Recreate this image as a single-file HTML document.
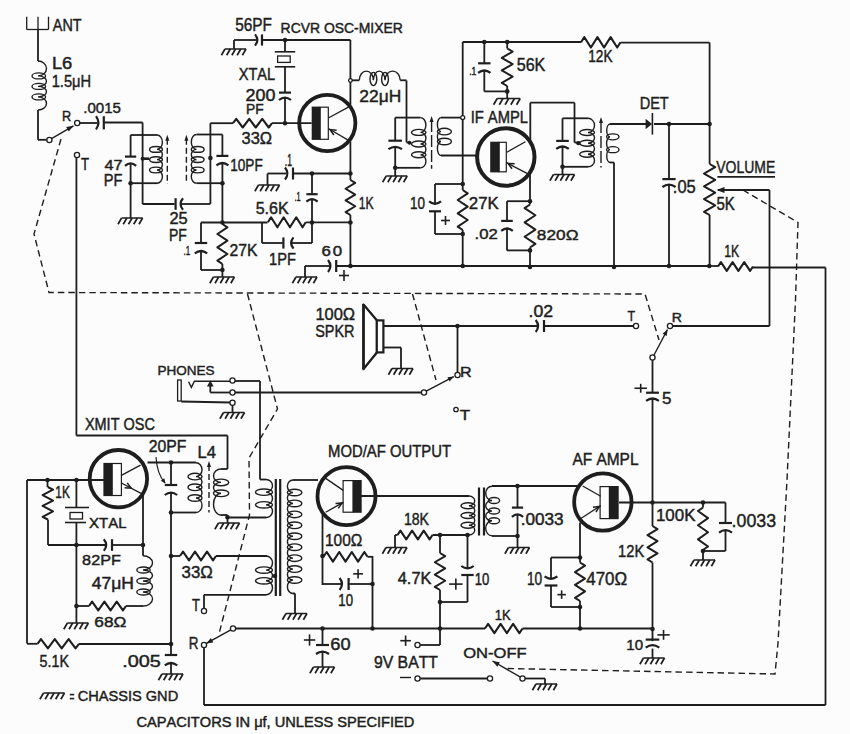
<!DOCTYPE html>
<html><head><meta charset="utf-8"><style>
html,body{margin:0;padding:0;background:#fcfcfc;overflow:hidden;width:850px;height:734px;}
svg{display:block;}
text{font-family:"Liberation Sans",sans-serif;fill:#1e1e1e;stroke:#1e1e1e;stroke-width:0.45px;font-kerning:none;}
</style></head><body>
<svg width="850" height="734" viewBox="0 0 850 734">
<rect width="850" height="734" fill="#fcfcfc"/>
<g fill="none" stroke="#1e1e1e" stroke-width="1.8" stroke-linecap="butt">
<line x1="26.7" y1="16.7" x2="26.7" y2="29.5" stroke-width="1.3"/>
<line x1="38" y1="16.7" x2="38" y2="29.5" stroke-width="1.3"/>
<line x1="48.5" y1="16.7" x2="48.5" y2="29.5" stroke-width="1.3"/>
<line x1="26.7" y1="29.5" x2="48.5" y2="29.5" stroke-width="1.3"/>
<line x1="38" y1="29.5" x2="38" y2="61"/>
<path d="M38,61 A8.5,7.45 0 0 1 38,75.9 A8.5,5.25 0 0 1 38,86.4 A8.5,5.25 0 0 1 38,96.9 A8.5,6.55 0 0 1 38,110" stroke-width="1.4"/>
<ellipse cx="38.8" cy="75.9" rx="6.8" ry="3" stroke-width="1.4"/>
<ellipse cx="38.8" cy="86.4" rx="6.8" ry="3" stroke-width="1.4"/>
<ellipse cx="38.8" cy="96.9" rx="6.8" ry="3" stroke-width="1.4"/>
<line x1="38" y1="110" x2="38" y2="139.8"/>
<line x1="38" y1="139.8" x2="46.8" y2="139.8"/>
<circle cx="49.4" cy="140" r="2.6" fill="#fff" stroke-width="1.3"/>
<line x1="51.5" y1="138.7" x2="73.5" y2="125.8" stroke-width="1.4"/>
<polygon points="73.5,125.8 68.78,131.58 66.15,127.1" fill="#1e1e1e" stroke="none"/>
<circle cx="77.2" cy="123" r="2.6" fill="#fff" stroke-width="1.3"/>
<line x1="79.8" y1="123" x2="97.5" y2="123"/>
<line x1="103.8" y1="116.2" x2="103.8" y2="129.4" stroke-width="2.2"/>
<path d="M96,116.2 Q100.8,122.8 96,129.4" stroke-width="2.2"/>
<line x1="104.5" y1="122.5" x2="142.6" y2="122.5"/>
<line x1="142.6" y1="122.5" x2="142.6" y2="204"/>
<circle cx="77" cy="155" r="2.6" fill="#fff" stroke-width="1.3"/>
<line x1="76.4" y1="157.6" x2="76.4" y2="435.5"/>
<line x1="130.6" y1="135" x2="130.6" y2="156.4"/>
<line x1="125" y1="156.6" x2="136.2" y2="156.6" stroke-width="2.2"/>
<path d="M125,165.8 Q130.6,161 136.2,165.8" stroke-width="2.2"/>
<line x1="130.6" y1="163.6" x2="130.6" y2="218"/>
<line x1="121.6" y1="218" x2="142.6" y2="218" stroke-width="1.5"/>
<line x1="121.6" y1="218" x2="118" y2="224.2" stroke-width="1.7"/>
<line x1="126.85" y1="218" x2="123.25" y2="224.2" stroke-width="1.7"/>
<line x1="132.1" y1="218" x2="128.5" y2="224.2" stroke-width="1.7"/>
<line x1="137.35" y1="218" x2="133.75" y2="224.2" stroke-width="1.7"/>
<line x1="142.6" y1="218" x2="139" y2="224.2" stroke-width="1.7"/>
<circle cx="130.6" cy="183.2" r="2.3" fill="#1e1e1e" stroke="none"/>
<line x1="130.6" y1="135" x2="157" y2="135"/>
<line x1="130.6" y1="183.2" x2="157" y2="183.2"/>
<path d="M157,135 A5.4,7.2 0 0 1 157,149.4 A5.4,5.1 0 0 1 157,159.6 A5.4,5.2 0 0 1 157,170 A5.4,6.6 0 0 1 157,183.2" stroke-width="1.4"/>
<ellipse cx="156" cy="149.4" rx="6.4" ry="2.9" stroke-width="1.4"/>
<ellipse cx="156" cy="159.6" rx="6.4" ry="2.9" stroke-width="1.4"/>
<ellipse cx="156" cy="170" rx="6.4" ry="2.9" stroke-width="1.4"/>
<circle cx="142.6" cy="158.7" r="2" fill="#1e1e1e" stroke="none"/>
<line x1="142.6" y1="158.7" x2="149" y2="158.7" stroke-width="2.6"/>
<polyline points="167.3,138.7 167.3,184" stroke-width="1.4" stroke-dasharray="6 3"/>
<polygon points="167.3,134.7 169.3,140.7 165.3,140.7" fill="#1e1e1e" stroke="none"/>
<line x1="142.6" y1="204" x2="174.6" y2="204"/>
<line x1="175.6" y1="198.2" x2="175.6" y2="209.8" stroke-width="2.2"/>
<path d="M183,198.2 Q178.2,204 183,209.8" stroke-width="2.2"/>
<line x1="181.2" y1="204" x2="210.4" y2="204"/>
<polyline points="186.4,138.7 186.4,183.4" stroke-width="1.4" stroke-dasharray="6 3"/>
<polygon points="186.4,134.7 188.4,140.7 184.4,140.7" fill="#1e1e1e" stroke="none"/>
<path d="M196.5,134.5 A5.2,7.45 0 0 0 196.5,149.4 A5.2,5.1 0 0 0 196.5,159.6 A5.2,5.2 0 0 0 196.5,170 A5.2,6.6 0 0 0 196.5,183.2" stroke-width="1.4"/>
<ellipse cx="197.7" cy="149.4" rx="6.4" ry="2.9" stroke-width="1.4"/>
<ellipse cx="197.7" cy="159.6" rx="6.4" ry="2.9" stroke-width="1.4"/>
<ellipse cx="197.7" cy="170" rx="6.4" ry="2.9" stroke-width="1.4"/>
<line x1="196.5" y1="134.5" x2="222.4" y2="134.5"/>
<line x1="196.5" y1="183.2" x2="222.4" y2="183.2"/>
<line x1="210.4" y1="123.2" x2="210.4" y2="204"/>
<circle cx="210.4" cy="158" r="2.3" fill="#1e1e1e" stroke="none"/>
<line x1="210.4" y1="123.2" x2="233" y2="123.2"/>
<polyline points="233,123.2 236.25,118.9 242.75,127.5 249.25,118.9 255.75,127.5 262.25,118.9 268.75,127.5 272,123.2" stroke-width="2.1" stroke-linejoin="round"/>
<line x1="272" y1="123.2" x2="311.7" y2="123.2"/>
<circle cx="285" cy="123.2" r="2.3" fill="#1e1e1e" stroke="none"/>
<line x1="222.4" y1="134.5" x2="222.4" y2="155.5"/>
<line x1="216.4" y1="155.9" x2="228.4" y2="155.9" stroke-width="2.2"/>
<path d="M216.4,165.4 Q222.4,160.6 228.4,165.4" stroke-width="2.2"/>
<line x1="222.4" y1="163.4" x2="222.4" y2="222.5"/>
<circle cx="222.4" cy="183.2" r="2.3" fill="#1e1e1e" stroke="none"/>
<circle cx="222.4" cy="222.5" r="2.3" fill="#1e1e1e" stroke="none"/>
<line x1="225" y1="49" x2="246" y2="49" stroke-width="1.5"/>
<line x1="225" y1="49" x2="221.4" y2="55.2" stroke-width="1.7"/>
<line x1="230.25" y1="49" x2="226.65" y2="55.2" stroke-width="1.7"/>
<line x1="235.5" y1="49" x2="231.9" y2="55.2" stroke-width="1.7"/>
<line x1="240.75" y1="49" x2="237.15" y2="55.2" stroke-width="1.7"/>
<line x1="246" y1="49" x2="242.4" y2="55.2" stroke-width="1.7"/>
<line x1="234" y1="40" x2="234" y2="49"/>
<line x1="234" y1="40" x2="256.5" y2="40"/>
<line x1="262" y1="34.4" x2="262" y2="45.6" stroke-width="2.2"/>
<path d="M255,34.4 Q259.8,40 255,45.6" stroke-width="2.2"/>
<line x1="262.6" y1="40" x2="350.4" y2="40"/>
<circle cx="285" cy="40" r="2.3" fill="#1e1e1e" stroke="none"/>
<line x1="285" y1="40" x2="285" y2="51.8"/>
<line x1="274.8" y1="51.8" x2="295.2" y2="51.8" stroke-width="1.6"/>
<rect x="277.6" y="56" width="12.6" height="6.4" fill="#fff" stroke-width="1.3"/>
<line x1="274.8" y1="66.8" x2="295.2" y2="66.8" stroke-width="1.6"/>
<line x1="285" y1="66.8" x2="285" y2="92.3"/>
<line x1="279" y1="92.6" x2="291" y2="92.6" stroke-width="2.2"/>
<path d="M279,100 Q285,95.2 291,100" stroke-width="2.2"/>
<line x1="285" y1="98" x2="285" y2="123"/>
<circle cx="327.3" cy="123" r="28.1" stroke-width="3.8"/>
<rect x="311.7" y="106.6" width="8.5" height="33.3" fill="#1e1e1e" stroke="none"/>
<rect x="320.2" y="107.2" width="8.1" height="32.1" fill="#fff" stroke-width="1.2"/>
<line x1="328.8" y1="117.7" x2="348.4" y2="107.1" stroke-width="1.3"/>
<line x1="328.8" y1="128.8" x2="349.4" y2="140.9" stroke-width="1.3"/>
<polyline points="336.63,130.15 330.04,129.53 333.79,134.98" stroke-width="1.5"/>
<line x1="350.4" y1="40" x2="350.4" y2="105"/>
<line x1="350.4" y1="141.4" x2="350.4" y2="180"/>
<line x1="350.4" y1="215" x2="350.4" y2="266"/>
<circle cx="350.4" cy="80.5" r="1.8" fill="#fff" stroke-width="1.3"/>
<line x1="352" y1="80.3" x2="359.3" y2="80.3"/>
<path d="M359.3,80.3 A7.05,9.2 0 0 1 373.4,80.3 A5.8,9.2 0 0 1 385,80.3 A7.6,9.2 0 0 1 400.2,80.3" stroke-width="1.4"/>
<ellipse cx="373.4" cy="79" rx="3.4" ry="6.6" stroke-width="1.4"/>
<ellipse cx="385" cy="79" rx="3.4" ry="6.6" stroke-width="1.4"/>
<line x1="400.2" y1="80.3" x2="406.5" y2="80.3"/>
<line x1="406.5" y1="80.5" x2="406.5" y2="142.3"/>
<line x1="406.5" y1="142.5" x2="410" y2="142.5"/>
<circle cx="409.5" cy="142.8" r="2" fill="#1e1e1e" stroke="none"/>
<line x1="267.5" y1="173.5" x2="286.4" y2="173.5"/>
<line x1="293" y1="167.5" x2="293" y2="179.5" stroke-width="2.2"/>
<path d="M285,167.5 Q289.8,173.5 285,179.5" stroke-width="2.2"/>
<line x1="293.6" y1="173.5" x2="350.4" y2="173.5"/>
<circle cx="312" cy="173.5" r="2.3" fill="#1e1e1e" stroke="none"/>
<circle cx="350.4" cy="173.5" r="2.3" fill="#1e1e1e" stroke="none"/>
<line x1="267.5" y1="173.5" x2="267.5" y2="185"/>
<line x1="258.5" y1="185" x2="279.5" y2="185" stroke-width="1.5"/>
<line x1="258.5" y1="185" x2="254.9" y2="191.2" stroke-width="1.7"/>
<line x1="263.75" y1="185" x2="260.15" y2="191.2" stroke-width="1.7"/>
<line x1="269" y1="185" x2="265.4" y2="191.2" stroke-width="1.7"/>
<line x1="274.25" y1="185" x2="270.65" y2="191.2" stroke-width="1.7"/>
<line x1="279.5" y1="185" x2="275.9" y2="191.2" stroke-width="1.7"/>
<line x1="312" y1="173.5" x2="312" y2="193.8"/>
<line x1="306.4" y1="194.2" x2="317.6" y2="194.2" stroke-width="2.2"/>
<path d="M306.4,201.6 Q312,196.8 317.6,201.6" stroke-width="2.2"/>
<line x1="312" y1="199.6" x2="312" y2="243"/>
<polyline points="350.4,180 355.2,182.92 345.6,188.75 355.2,194.58 345.6,200.42 355.2,206.25 345.6,212.08 350.4,215" stroke-width="2" stroke-linejoin="round"/>
<line x1="201" y1="222.5" x2="267.5" y2="222.5"/>
<polyline points="267.9,222.3 271.05,217.3 277.35,227.3 283.65,217.3 289.95,227.3 296.25,217.3 302.55,227.3 305.7,222.3" stroke-width="2.1" stroke-linejoin="round"/>
<line x1="305.7" y1="222.3" x2="350.4" y2="222.3"/>
<circle cx="312" cy="222.5" r="2.3" fill="#1e1e1e" stroke="none"/>
<circle cx="350.4" cy="222.5" r="2.3" fill="#1e1e1e" stroke="none"/>
<line x1="262" y1="222.5" x2="262" y2="243"/>
<line x1="262" y1="243" x2="282.7" y2="243"/>
<line x1="283.4" y1="237.4" x2="283.4" y2="248.6" stroke-width="2.2"/>
<path d="M293.5,237.4 Q288.7,243 293.5,248.6" stroke-width="2.2"/>
<line x1="291.6" y1="243" x2="312" y2="243"/>
<line x1="222.4" y1="222.5" x2="222.4" y2="224"/>
<polyline points="222.4,224 227.4,227.33 217.4,234 227.4,240.67 217.4,247.33 227.4,254 217.4,260.67 222.4,264" stroke-width="2" stroke-linejoin="round"/>
<line x1="222.4" y1="264" x2="222.4" y2="270"/>
<line x1="222.4" y1="267.5" x2="222.4" y2="277"/>
<circle cx="222.4" cy="270" r="2.3" fill="#1e1e1e" stroke="none"/>
<line x1="213.4" y1="277" x2="234.4" y2="277" stroke-width="1.5"/>
<line x1="213.4" y1="277" x2="209.8" y2="283.2" stroke-width="1.7"/>
<line x1="218.65" y1="277" x2="215.05" y2="283.2" stroke-width="1.7"/>
<line x1="223.9" y1="277" x2="220.3" y2="283.2" stroke-width="1.7"/>
<line x1="229.15" y1="277" x2="225.55" y2="283.2" stroke-width="1.7"/>
<line x1="234.4" y1="277" x2="230.8" y2="283.2" stroke-width="1.7"/>
<line x1="201" y1="222.5" x2="201" y2="242.6"/>
<line x1="194.8" y1="243" x2="207.2" y2="243" stroke-width="2.2"/>
<path d="M194.8,253.4 Q201,248.6 207.2,253.4" stroke-width="2.2"/>
<line x1="201" y1="251.4" x2="201" y2="270"/>
<line x1="201" y1="270" x2="222.4" y2="270"/>
<line x1="305" y1="266" x2="329.6" y2="266"/>
<line x1="336.2" y1="260" x2="336.2" y2="272" stroke-width="2.2"/>
<path d="M328,260 Q332.8,266 328,272" stroke-width="2.2"/>
<line x1="337" y1="266" x2="709.6" y2="266"/>
<line x1="305" y1="266" x2="305" y2="277"/>
<line x1="296" y1="277" x2="317" y2="277" stroke-width="1.5"/>
<line x1="296" y1="277" x2="292.4" y2="283.2" stroke-width="1.7"/>
<line x1="301.25" y1="277" x2="297.65" y2="283.2" stroke-width="1.7"/>
<line x1="306.5" y1="277" x2="302.9" y2="283.2" stroke-width="1.7"/>
<line x1="311.75" y1="277" x2="308.15" y2="283.2" stroke-width="1.7"/>
<line x1="317" y1="277" x2="313.4" y2="283.2" stroke-width="1.7"/>
<circle cx="350.4" cy="266" r="2.3" fill="#1e1e1e" stroke="none"/>
<line x1="339" y1="275.5" x2="349" y2="275.5" stroke-width="1.6"/>
<line x1="344" y1="270" x2="344" y2="281" stroke-width="1.6"/>
<line x1="395.2" y1="117.6" x2="420.5" y2="117.6"/>
<line x1="395.2" y1="167.8" x2="420.5" y2="167.8"/>
<line x1="395.2" y1="117.6" x2="395.2" y2="140.3"/>
<line x1="388.4" y1="140.7" x2="402" y2="140.7" stroke-width="2.2"/>
<path d="M388.4,149.2 Q395.2,144.4 402,149.2" stroke-width="2.2"/>
<line x1="395.2" y1="147.2" x2="395.2" y2="176"/>
<circle cx="395.2" cy="167.8" r="2.3" fill="#1e1e1e" stroke="none"/>
<line x1="386.2" y1="176" x2="407.2" y2="176" stroke-width="1.5"/>
<line x1="386.2" y1="176" x2="382.6" y2="182.2" stroke-width="1.7"/>
<line x1="391.45" y1="176" x2="387.85" y2="182.2" stroke-width="1.7"/>
<line x1="396.7" y1="176" x2="393.1" y2="182.2" stroke-width="1.7"/>
<line x1="401.95" y1="176" x2="398.35" y2="182.2" stroke-width="1.7"/>
<line x1="407.2" y1="176" x2="403.6" y2="182.2" stroke-width="1.7"/>
<path d="M420.5,117.6 A5.4,7.4 0 0 1 420.5,132.4 A5.4,5.8 0 0 1 420.5,144 A5.4,5.35 0 0 1 420.5,154.7 A5.4,6.55 0 0 1 420.5,167.8" stroke-width="1.4"/>
<ellipse cx="418.7" cy="132.4" rx="7.2" ry="3" stroke-width="1.4"/>
<ellipse cx="418.7" cy="144" rx="7.2" ry="3" stroke-width="1.4"/>
<ellipse cx="418.7" cy="154.7" rx="7.2" ry="3" stroke-width="1.4"/>
<polyline points="431.6,120 431.6,168.7" stroke-width="1.4" stroke-dasharray="12 3"/>
<polygon points="431.6,116 433.6,122 429.6,122" fill="#1e1e1e" stroke="none"/>
<path d="M441,117.6 A3.6,7 0 0 0 441,131.6 A3.6,4.95 0 0 0 441,141.5 A3.6,7 0 0 0 441,155.5" stroke-width="1.4"/>
<ellipse cx="444.4" cy="131.6" rx="7" ry="3.3" stroke-width="1.4"/>
<ellipse cx="444.4" cy="141.5" rx="7" ry="3.3" stroke-width="1.4"/>
<line x1="441" y1="117.6" x2="460.3" y2="117.6"/>
<line x1="441" y1="155.5" x2="478.5" y2="155.5"/>
<line x1="462.7" y1="42" x2="462.7" y2="190"/>
<line x1="462.7" y1="230" x2="462.7" y2="266"/>
<circle cx="462.7" cy="117.6" r="2" fill="#fff" stroke-width="1.3"/>
<line x1="462.7" y1="42" x2="581" y2="42"/>
<polyline points="581,42.3 584.29,37.1 590.88,47.5 597.46,37.1 604.04,47.5 610.62,37.1 617.21,47.5 620.5,42.3" stroke-width="2.1" stroke-linejoin="round"/>
<line x1="620.5" y1="42.6" x2="709.6" y2="42.6"/>
<line x1="709.6" y1="42.6" x2="709.6" y2="124"/>
<circle cx="484.3" cy="42" r="2.3" fill="#1e1e1e" stroke="none"/>
<circle cx="507.2" cy="42" r="2.3" fill="#1e1e1e" stroke="none"/>
<line x1="484.3" y1="42" x2="484.3" y2="63"/>
<line x1="478.1" y1="63.3" x2="490.5" y2="63.3" stroke-width="2.2"/>
<path d="M478.1,72.9 Q484.3,68.1 490.5,72.9" stroke-width="2.2"/>
<line x1="484.3" y1="70.9" x2="484.3" y2="91.4"/>
<line x1="484.3" y1="91.4" x2="507.2" y2="91.4"/>
<line x1="507.2" y1="42" x2="507.2" y2="48.5"/>
<polyline points="507.2,48.5 512.6,51.62 501.8,57.88 512.6,64.12 501.8,70.38 512.6,76.62 501.8,82.88 507.2,86" stroke-width="2" stroke-linejoin="round"/>
<line x1="507.2" y1="86" x2="507.2" y2="98.5"/>
<circle cx="507.2" cy="91.4" r="2.3" fill="#1e1e1e" stroke="none"/>
<line x1="497.2" y1="98.5" x2="520.2" y2="98.5" stroke-width="1.5"/>
<line x1="497.2" y1="98.5" x2="493.6" y2="104.7" stroke-width="1.7"/>
<line x1="502.95" y1="98.5" x2="499.35" y2="104.7" stroke-width="1.7"/>
<line x1="508.7" y1="98.5" x2="505.1" y2="104.7" stroke-width="1.7"/>
<line x1="514.45" y1="98.5" x2="510.85" y2="104.7" stroke-width="1.7"/>
<line x1="520.2" y1="98.5" x2="516.6" y2="104.7" stroke-width="1.7"/>
<circle cx="505.8" cy="157" r="28.7" stroke-width="4"/>
<rect x="490.2" y="141.7" width="9" height="30.7" fill="#1e1e1e" stroke="none"/>
<rect x="499.2" y="142.3" width="7.1" height="29.5" fill="#fff" stroke-width="1.2"/>
<line x1="506.8" y1="152.2" x2="525.4" y2="141.7" stroke-width="1.3"/>
<line x1="506.8" y1="162.8" x2="527" y2="173.4" stroke-width="1.3"/>
<polyline points="514.63,163.74 508.01,163.44 512.02,168.7" stroke-width="1.5"/>
<line x1="530.3" y1="102.7" x2="530.3" y2="140.5"/>
<line x1="530.3" y1="102.7" x2="574.5" y2="102.7"/>
<line x1="574.5" y1="102.7" x2="574.5" y2="142.5"/>
<line x1="574.5" y1="142.5" x2="580" y2="142.5"/>
<line x1="530" y1="174.5" x2="530" y2="204.5"/>
<line x1="530" y1="247.5" x2="530" y2="267"/>
<circle cx="530" cy="201.2" r="2.3" fill="#1e1e1e" stroke="none"/>
<line x1="507" y1="201.2" x2="530" y2="201.2"/>
<line x1="507" y1="201.2" x2="507" y2="220.5"/>
<line x1="501.2" y1="220.9" x2="512.8" y2="220.9" stroke-width="2.2"/>
<path d="M501.2,230.9 Q507,226.1 512.8,230.9" stroke-width="2.2"/>
<line x1="507" y1="228.9" x2="507" y2="250.4"/>
<line x1="507" y1="250.4" x2="530" y2="250.4"/>
<polyline points="530,204.5 524.6,208.08 535.4,215.25 524.6,222.42 535.4,229.58 524.6,236.75 535.4,243.92 530,247.5" stroke-width="2" stroke-linejoin="round"/>
<circle cx="530" cy="250.4" r="2.3" fill="#1e1e1e" stroke="none"/>
<circle cx="462.7" cy="184" r="2.3" fill="#1e1e1e" stroke="none"/>
<line x1="435" y1="184" x2="462.7" y2="184"/>
<line x1="435" y1="184" x2="435" y2="204.6"/>
<line x1="429" y1="211.3" x2="441" y2="211.3" stroke-width="2.2"/>
<path d="M429,201.4 Q435,206.2 441,201.4" stroke-width="2.2"/>
<line x1="435" y1="211.3" x2="435" y2="234"/>
<line x1="435" y1="234" x2="462.7" y2="234"/>
<polyline points="462.7,190 467.7,193.33 457.7,200 467.7,206.67 457.7,213.33 467.7,220 457.7,226.67 462.7,230" stroke-width="2" stroke-linejoin="round"/>
<circle cx="462.7" cy="234" r="2.3" fill="#1e1e1e" stroke="none"/>
<line x1="441" y1="220.5" x2="450" y2="220.5" stroke-width="1.6"/>
<line x1="445.5" y1="216" x2="445.5" y2="225" stroke-width="1.6"/>
<line x1="562.5" y1="118.3" x2="588" y2="118.3"/>
<line x1="562.5" y1="166.8" x2="588" y2="166.8"/>
<line x1="562.5" y1="118.3" x2="562.5" y2="140.5"/>
<line x1="556.2" y1="140.9" x2="568.8" y2="140.9" stroke-width="2.2"/>
<path d="M556.2,148.9 Q562.5,144.1 568.8,148.9" stroke-width="2.2"/>
<line x1="562.5" y1="146.9" x2="562.5" y2="174.5"/>
<circle cx="562.5" cy="166.8" r="2.3" fill="#1e1e1e" stroke="none"/>
<line x1="553.5" y1="174.5" x2="574.5" y2="174.5" stroke-width="1.5"/>
<line x1="553.5" y1="174.5" x2="549.9" y2="180.7" stroke-width="1.7"/>
<line x1="558.75" y1="174.5" x2="555.15" y2="180.7" stroke-width="1.7"/>
<line x1="564" y1="174.5" x2="560.4" y2="180.7" stroke-width="1.7"/>
<line x1="569.25" y1="174.5" x2="565.65" y2="180.7" stroke-width="1.7"/>
<line x1="574.5" y1="174.5" x2="570.9" y2="180.7" stroke-width="1.7"/>
<path d="M588,118.3 A6.5,7.1 0 0 1 588,132.5 A6.5,5.35 0 0 1 588,143.2 A6.5,5.5 0 0 1 588,154.2 A6.5,6.3 0 0 1 588,166.8" stroke-width="1.4"/>
<ellipse cx="587.1" cy="132.5" rx="7.4" ry="3" stroke-width="1.4"/>
<ellipse cx="587.1" cy="143.2" rx="7.4" ry="3" stroke-width="1.4"/>
<ellipse cx="587.1" cy="154.2" rx="7.4" ry="3" stroke-width="1.4"/>
<circle cx="578.3" cy="143.2" r="2.1" fill="#1e1e1e" stroke="none"/>
<polyline points="601,121 601,167.5" stroke-width="1.4" stroke-dasharray="12 3"/>
<polygon points="601,117 603,123 599,123" fill="#1e1e1e" stroke="none"/>
<path d="M610,124 A3.4,6.42 0 0 0 610,136.83 A3.4,6.42 0 0 0 610,149.67 A3.4,6.42 0 0 0 610,162.5" stroke-width="1.4"/>
<ellipse cx="612.8" cy="136.83" rx="6.2" ry="3" stroke-width="1.4"/>
<ellipse cx="612.8" cy="149.67" rx="6.2" ry="3" stroke-width="1.4"/>
<line x1="610" y1="124" x2="646" y2="124"/>
<line x1="614" y1="162.5" x2="614" y2="267"/>
<line x1="610" y1="162.5" x2="614" y2="162.5"/>
<polygon points="645.6,118.8 652,124 645.6,129.2" fill="#1e1e1e" stroke="none"/>
<line x1="652.4" y1="113" x2="652.4" y2="134.6" stroke-width="1.6"/>
<line x1="654" y1="124" x2="709.6" y2="124"/>
<circle cx="669" cy="124" r="2.3" fill="#1e1e1e" stroke="none"/>
<circle cx="709.6" cy="124" r="2.3" fill="#1e1e1e" stroke="none"/>
<line x1="669" y1="124" x2="669" y2="178.8"/>
<line x1="662.4" y1="179.1" x2="675.6" y2="179.1" stroke-width="2.2"/>
<path d="M662.4,187 Q669,182.2 675.6,187" stroke-width="2.2"/>
<line x1="669" y1="184.6" x2="669" y2="266"/>
<circle cx="530" cy="267" r="2.3" fill="#1e1e1e" stroke="none"/>
<circle cx="614" cy="267" r="2.3" fill="#1e1e1e" stroke="none"/>
<circle cx="669" cy="266" r="2.3" fill="#1e1e1e" stroke="none"/>
<circle cx="462.7" cy="266" r="2.3" fill="#1e1e1e" stroke="none"/>
<line x1="709.6" y1="124" x2="709.6" y2="164"/>
<polyline points="709.6,164 715.2,167.19 704,173.56 715.2,179.94 704,186.31 715.2,192.69 704,199.06 715.2,205.44 704,211.81 709.6,215" stroke-width="2" stroke-linejoin="round"/>
<line x1="709.6" y1="215" x2="709.6" y2="266"/>
<circle cx="709.3" cy="266" r="2.3" fill="#1e1e1e" stroke="none"/>
<line x1="718" y1="190" x2="769.5" y2="190"/>
<polygon points="716.5,190 724.5,187 724.5,193" fill="#1e1e1e" stroke="none"/>
<line x1="769.5" y1="190" x2="769.5" y2="326"/>
<line x1="717.4" y1="176.9" x2="775" y2="176.9" stroke-width="1.6"/>
<line x1="709.6" y1="266" x2="718" y2="266"/>
<polyline points="718,266.5 720.92,262.1 726.75,270.9 732.58,262.1 738.42,270.9 744.25,262.1 750.08,270.9 753,266.5" stroke-width="2.1" stroke-linejoin="round"/>
<line x1="753" y1="267.5" x2="825.5" y2="267.5"/>
<line x1="825.5" y1="267.5" x2="825.5" y2="705"/>
<polyline points="743,190 798,222.5 795.5,300 787,480 778,643 775,674 507.5,668.5" stroke-width="1.4" stroke-dasharray="6.5 4"/>
<polyline points="61,139 34,234 49,292.5 645,294 659,340" stroke-width="1.4" stroke-dasharray="6.5 4"/>
<polyline points="247.5,294 277.5,409 249,458 249.5,515 219.5,632" stroke-width="1.4" stroke-dasharray="6.5 4"/>
<polyline points="412.5,294 436,380" stroke-width="1.4" stroke-dasharray="6.5 4"/>
<line x1="384" y1="326" x2="537.2" y2="326"/>
<line x1="544" y1="320" x2="544" y2="332" stroke-width="2.2"/>
<path d="M535.7,320 Q540.5,326 535.7,332" stroke-width="2.2"/>
<line x1="544.6" y1="326" x2="633.4" y2="326"/>
<circle cx="636" cy="326" r="2.6" fill="#fff" stroke-width="1.3"/>
<circle cx="457.5" cy="326" r="2.3" fill="#1e1e1e" stroke="none"/>
<circle cx="670" cy="326" r="2.6" fill="#fff" stroke-width="1.3"/>
<line x1="672.6" y1="326" x2="769.5" y2="326"/>
<circle cx="652.5" cy="357.5" r="2.6" fill="#fff" stroke-width="1.3"/>
<line x1="654" y1="355" x2="667.5" y2="329.5" stroke-width="1.4"/>
<polygon points="667.5,329.5 666.81,335.93 662.57,333.68" fill="#1e1e1e" stroke="none"/>
<line x1="652.5" y1="360.1" x2="652.5" y2="392.4"/>
<line x1="646.1" y1="392.7" x2="658.9" y2="392.7" stroke-width="2.2"/>
<path d="M646.1,400.9 Q652.5,396.1 658.9,400.9" stroke-width="2.2"/>
<line x1="652.5" y1="398.9" x2="652.5" y2="526"/>
<line x1="652.5" y1="562.5" x2="652.5" y2="629"/>
<circle cx="652.5" cy="502.5" r="2.3" fill="#1e1e1e" stroke="none"/>
<circle cx="652.5" cy="629" r="2.3" fill="#1e1e1e" stroke="none"/>
<line x1="634.5" y1="388.25" x2="646.9" y2="388.25" stroke-width="1.6"/>
<line x1="640.7" y1="383.8" x2="640.7" y2="392.7" stroke-width="1.6"/>
<polygon points="363.5,304.5 376.5,320 376.5,352.5 363.5,369" fill="#fff" stroke-width="1.3"/>
<line x1="363.5" y1="304" x2="363.5" y2="369.5" stroke-width="2.8"/>
<line x1="363.5" y1="304.5" x2="377" y2="320.5" stroke-width="2.2"/>
<line x1="363.5" y1="369" x2="377" y2="352.5" stroke-width="2.2"/>
<rect x="376.8" y="320.4" width="6.6" height="32" fill="#fff" stroke-width="2.2"/>
<line x1="383.4" y1="347.5" x2="401" y2="347.5"/>
<line x1="401" y1="347.5" x2="401" y2="368.5"/>
<line x1="392" y1="368.5" x2="413" y2="368.5" stroke-width="1.5"/>
<line x1="392" y1="368.5" x2="388.4" y2="374.7" stroke-width="1.7"/>
<line x1="397.25" y1="368.5" x2="393.65" y2="374.7" stroke-width="1.7"/>
<line x1="402.5" y1="368.5" x2="398.9" y2="374.7" stroke-width="1.7"/>
<line x1="407.75" y1="368.5" x2="404.15" y2="374.7" stroke-width="1.7"/>
<line x1="413" y1="368.5" x2="409.4" y2="374.7" stroke-width="1.7"/>
<line x1="457.5" y1="326" x2="457.5" y2="372.4"/>
<circle cx="457.5" cy="375" r="2.6" fill="#fff" stroke-width="1.3"/>
<circle cx="424" cy="392.5" r="2.6" fill="#fff" stroke-width="1.3"/>
<line x1="426.2" y1="391.2" x2="453.8" y2="376.6" stroke-width="1.4"/>
<polygon points="453.8,376.6 449.62,381.53 447.37,377.28" fill="#1e1e1e" stroke="none"/>
<line x1="235" y1="392.5" x2="421.4" y2="392.5"/>
<circle cx="456" cy="409.5" r="2.2" fill="#fff" stroke-width="1.3"/>
<rect x="177.6" y="380" width="3.6" height="21" fill="#fff" stroke-width="1.3"/>
<line x1="181.2" y1="401.5" x2="230" y2="402.5"/>
<polyline points="188.6,381.8 191.4,387.4 194.4,381.2 230,381.2" stroke-width="1.4"/>
<line x1="210.3" y1="392.5" x2="230" y2="392.5"/>
<line x1="210.3" y1="392.5" x2="210.3" y2="385"/>
<polygon points="210.3,380.4 213.7,386.4 206.9,386.4" fill="#1e1e1e" stroke="none"/>
<circle cx="232.5" cy="380.5" r="2.6" fill="#fff" stroke-width="1.3"/>
<circle cx="232.5" cy="392.5" r="2.6" fill="#fff" stroke-width="1.3"/>
<circle cx="232.5" cy="402.8" r="2.6" fill="#fff" stroke-width="1.3"/>
<line x1="235" y1="381" x2="260" y2="381"/>
<line x1="260" y1="381" x2="260" y2="479.5"/>
<line x1="232.5" y1="405.4" x2="232.5" y2="412.5"/>
<line x1="223.5" y1="412.5" x2="244.5" y2="412.5" stroke-width="1.5"/>
<line x1="223.5" y1="412.5" x2="219.9" y2="418.7" stroke-width="1.7"/>
<line x1="228.75" y1="412.5" x2="225.15" y2="418.7" stroke-width="1.7"/>
<line x1="234" y1="412.5" x2="230.4" y2="418.7" stroke-width="1.7"/>
<line x1="239.25" y1="412.5" x2="235.65" y2="418.7" stroke-width="1.7"/>
<line x1="244.5" y1="412.5" x2="240.9" y2="418.7" stroke-width="1.7"/>
<line x1="76.4" y1="435.5" x2="227.5" y2="435.5"/>
<line x1="227.5" y1="435.5" x2="227.5" y2="469"/>
<circle cx="118.4" cy="478.7" r="28.7" stroke-width="3.8"/>
<rect x="103.4" y="462.9" width="8.8" height="33.2" fill="#1e1e1e" stroke="none"/>
<rect x="112.2" y="463.5" width="9.2" height="32" fill="#fff" stroke-width="1.2"/>
<line x1="121.4" y1="475.4" x2="140.5" y2="465.1" stroke-width="1.3"/>
<line x1="121.4" y1="483" x2="141" y2="493.4" stroke-width="1.3"/>
<polyline points="124.59,487.86 131.2,488.2 127.21,482.91" stroke-width="1.5"/>
<line x1="27" y1="480" x2="105" y2="480"/>
<circle cx="47.5" cy="480" r="2.3" fill="#1e1e1e" stroke="none"/>
<circle cx="76.4" cy="480" r="2.3" fill="#1e1e1e" stroke="none"/>
<line x1="27" y1="480" x2="27" y2="643.5"/>
<polyline points="47.8,487 53,489.71 42.6,495.12 53,500.54 42.6,505.96 53,511.38 42.6,516.79 47.8,519.5" stroke-width="2" stroke-linejoin="round"/>
<line x1="47.5" y1="480" x2="47.5" y2="487"/>
<line x1="48" y1="519.5" x2="48" y2="545"/>
<line x1="48" y1="545" x2="105.2" y2="545"/>
<line x1="112" y1="539.2" x2="112" y2="550.8" stroke-width="2.2"/>
<path d="M103.8,539.2 Q108.6,545 103.8,550.8" stroke-width="2.2"/>
<line x1="112.6" y1="545" x2="143" y2="545"/>
<circle cx="76.4" cy="545" r="2.3" fill="#1e1e1e" stroke="none"/>
<circle cx="143" cy="545" r="2.3" fill="#1e1e1e" stroke="none"/>
<line x1="76.4" y1="480" x2="76.4" y2="507.5"/>
<line x1="65" y1="507.5" x2="89" y2="507.5" stroke-width="1.6"/>
<rect x="70" y="512.5" width="12.5" height="6.5" fill="#fff" stroke-width="1.3"/>
<line x1="65" y1="522.5" x2="86" y2="522.5" stroke-width="1.6"/>
<line x1="76.4" y1="522.5" x2="76.4" y2="623"/>
<line x1="143" y1="494" x2="143" y2="545"/>
<line x1="143" y1="545" x2="143" y2="555.8"/>
<path d="M143,555.8 A9.5,7.1 0 0 1 143,570 A9.5,5.5 0 0 1 143,581 A9.5,5.5 0 0 1 143,592 A9.5,7 0 0 1 143,606" stroke-width="1.4"/>
<ellipse cx="143.5" cy="570" rx="6.7" ry="3" stroke-width="1.4"/>
<ellipse cx="143.5" cy="581" rx="6.7" ry="3" stroke-width="1.4"/>
<ellipse cx="143.5" cy="592" rx="6.7" ry="3" stroke-width="1.4"/>
<line x1="76.4" y1="606" x2="89" y2="606"/>
<polyline points="89,606 92.08,601.6 98.25,610.4 104.42,601.6 110.58,610.4 116.75,601.6 122.92,610.4 126,606" stroke-width="2.1" stroke-linejoin="round"/>
<line x1="126" y1="606" x2="143" y2="606"/>
<circle cx="76.4" cy="606" r="2.3" fill="#1e1e1e" stroke="none"/>
<line x1="67.4" y1="623" x2="88.4" y2="623" stroke-width="1.5"/>
<line x1="67.4" y1="623" x2="63.8" y2="629.2" stroke-width="1.7"/>
<line x1="72.65" y1="623" x2="69.05" y2="629.2" stroke-width="1.7"/>
<line x1="77.9" y1="623" x2="74.3" y2="629.2" stroke-width="1.7"/>
<line x1="83.15" y1="623" x2="79.55" y2="629.2" stroke-width="1.7"/>
<line x1="88.4" y1="623" x2="84.8" y2="629.2" stroke-width="1.7"/>
<line x1="27" y1="643.8" x2="37.5" y2="643.8"/>
<polyline points="37.5,643.8 40.96,639.2 47.88,648.4 54.79,639.2 61.71,648.4 68.62,639.2 75.54,648.4 79,643.8" stroke-width="2.1" stroke-linejoin="round"/>
<line x1="79" y1="644" x2="171" y2="644"/>
<circle cx="171" cy="644" r="2.3" fill="#1e1e1e" stroke="none"/>
<line x1="171" y1="644" x2="171" y2="654.6"/>
<line x1="164.8" y1="655" x2="177.2" y2="655" stroke-width="2.2"/>
<path d="M164.8,665.4 Q171,660.6 177.2,665.4" stroke-width="2.2"/>
<line x1="171" y1="663.4" x2="171" y2="674"/>
<line x1="162" y1="674" x2="183" y2="674" stroke-width="1.5"/>
<line x1="162" y1="674" x2="158.4" y2="680.2" stroke-width="1.7"/>
<line x1="167.25" y1="674" x2="163.65" y2="680.2" stroke-width="1.7"/>
<line x1="172.5" y1="674" x2="168.9" y2="680.2" stroke-width="1.7"/>
<line x1="177.75" y1="674" x2="174.15" y2="680.2" stroke-width="1.7"/>
<line x1="183" y1="674" x2="179.4" y2="680.2" stroke-width="1.7"/>
<line x1="43.5" y1="693" x2="64.5" y2="693" stroke-width="1.5"/>
<line x1="43.5" y1="693" x2="39.9" y2="699.2" stroke-width="1.7"/>
<line x1="48.75" y1="693" x2="45.15" y2="699.2" stroke-width="1.7"/>
<line x1="54" y1="693" x2="50.4" y2="699.2" stroke-width="1.7"/>
<line x1="59.25" y1="693" x2="55.65" y2="699.2" stroke-width="1.7"/>
<line x1="64.5" y1="693" x2="60.9" y2="699.2" stroke-width="1.7"/>
<line x1="69.8" y1="694.6" x2="74.2" y2="694.6" stroke-width="1.6"/>
<line x1="69.8" y1="698.6" x2="74.2" y2="698.6" stroke-width="1.6"/>
<line x1="147.5" y1="462.5" x2="196" y2="462.5"/>
<circle cx="171" cy="462.5" r="2.3" fill="#1e1e1e" stroke="none"/>
<line x1="171" y1="462.5" x2="171" y2="484.6"/>
<line x1="164.8" y1="485" x2="177.2" y2="485" stroke-width="2.2"/>
<path d="M164.8,495 Q171,490.2 177.2,495" stroke-width="2.2"/>
<line x1="171" y1="493" x2="171" y2="644"/>
<circle cx="171" cy="512.5" r="2.3" fill="#1e1e1e" stroke="none"/>
<circle cx="171" cy="556" r="2.3" fill="#1e1e1e" stroke="none"/>
<line x1="171" y1="512.5" x2="196" y2="512.5"/>
<path d="M196,462.8 A6,6.9 0 0 1 196,476.6 A6,5.35 0 0 1 196,487.3 A6,5.35 0 0 1 196,498 A6,7.25 0 0 1 196,512.5" stroke-width="1.4"/>
<ellipse cx="195" cy="476.6" rx="7" ry="3.3" stroke-width="1.4"/>
<ellipse cx="195" cy="487.3" rx="7" ry="3.3" stroke-width="1.4"/>
<ellipse cx="195" cy="498" rx="7" ry="3.3" stroke-width="1.4"/>
<polyline points="209,465 209,512.5" stroke-width="1.4" stroke-dasharray="6 3"/>
<polygon points="209,461 211,467 207,467" fill="#1e1e1e" stroke="none"/>
<path d="M221,469 A7.5,6.7 0 0 0 221,482.4 A7.5,5.45 0 0 0 221,493.3 A7.5,10.85 0 0 0 221,515" stroke-width="1.4"/>
<ellipse cx="221.1" cy="482.4" rx="7.6" ry="3.3" stroke-width="1.4"/>
<ellipse cx="221.1" cy="493.3" rx="7.6" ry="3.3" stroke-width="1.4"/>
<line x1="221" y1="469" x2="227.5" y2="469"/>
<line x1="221" y1="515" x2="227.5" y2="515"/>
<line x1="227.5" y1="515" x2="227.5" y2="517.5"/>
<circle cx="227.5" cy="517.2" r="2.3" fill="#1e1e1e" stroke="none"/>
<line x1="227.5" y1="517.5" x2="266" y2="517.5"/>
<line x1="227.5" y1="517.5" x2="227.5" y2="523"/>
<line x1="218.5" y1="523" x2="239.5" y2="523" stroke-width="1.5"/>
<line x1="218.5" y1="523" x2="214.9" y2="529.2" stroke-width="1.7"/>
<line x1="223.75" y1="523" x2="220.15" y2="529.2" stroke-width="1.7"/>
<line x1="229" y1="523" x2="225.4" y2="529.2" stroke-width="1.7"/>
<line x1="234.25" y1="523" x2="230.65" y2="529.2" stroke-width="1.7"/>
<line x1="239.5" y1="523" x2="235.9" y2="529.2" stroke-width="1.7"/>
<path d="M156,457 Q157,474 165,483" stroke-width="1.2"/>
<polygon points="165.5,483.5 160.77,480.77 164.32,478.17" fill="#1e1e1e" stroke="none"/>
<line x1="171" y1="556" x2="180" y2="556"/>
<polyline points="180,556 183,551.6 189,560.4 195,551.6 201,560.4 207,551.6 213,560.4 216,556" stroke-width="2.1" stroke-linejoin="round"/>
<line x1="216" y1="556" x2="267" y2="556"/>
<path d="M266,479.5 A6.5,6.33 0 0 1 266,492.17 A6.5,6.33 0 0 1 266,504.83 A6.5,6.33 0 0 1 266,517.5" stroke-width="1.4"/>
<ellipse cx="264" cy="492.17" rx="8.5" ry="3.2" stroke-width="1.4"/>
<ellipse cx="264" cy="504.83" rx="8.5" ry="3.2" stroke-width="1.4"/>
<line x1="260" y1="479.5" x2="266" y2="479.5"/>
<line x1="275.8" y1="479" x2="275.8" y2="596" stroke-width="2.2"/>
<line x1="280.2" y1="479" x2="280.2" y2="596" stroke-width="2.2"/>
<path d="M266,556 A6.5,7.05 0 0 1 266,570.1 A6.5,5.35 0 0 1 266,580.8 A6.5,7 0 0 1 266,594.8" stroke-width="1.4"/>
<ellipse cx="264" cy="570.1" rx="8.5" ry="3.2" stroke-width="1.4"/>
<ellipse cx="264" cy="580.8" rx="8.5" ry="3.2" stroke-width="1.4"/>
<circle cx="275" cy="576" r="2.3" fill="#1e1e1e" stroke="none"/>
<line x1="204" y1="594.8" x2="266" y2="594.8"/>
<line x1="204" y1="594.8" x2="204" y2="608.4"/>
<circle cx="204" cy="611" r="2.6" fill="#fff" stroke-width="1.3"/>
<path d="M293,480 A5.6,6.25 0 0 0 293,492.5 A5.6,5.47 0 0 0 293,503.44 A5.6,5.47 0 0 0 293,514.38 A5.6,5.47 0 0 0 293,525.32 A5.6,5.47 0 0 0 293,536.26 A5.6,5.47 0 0 0 293,547.2 A5.6,5.47 0 0 0 293,558.14 A5.6,5.47 0 0 0 293,569.08 A5.6,5.47 0 0 0 293,580.02 A5.6,6.74 0 0 0 293,593.5" stroke-width="1.4"/>
<ellipse cx="294.6" cy="492.5" rx="7.2" ry="3.3" stroke-width="1.4"/>
<ellipse cx="294.6" cy="503.44" rx="7.2" ry="3.3" stroke-width="1.4"/>
<ellipse cx="294.6" cy="514.38" rx="7.2" ry="3.3" stroke-width="1.4"/>
<ellipse cx="294.6" cy="525.32" rx="7.2" ry="3.3" stroke-width="1.4"/>
<ellipse cx="294.6" cy="536.26" rx="7.2" ry="3.3" stroke-width="1.4"/>
<ellipse cx="294.6" cy="547.2" rx="7.2" ry="3.3" stroke-width="1.4"/>
<ellipse cx="294.6" cy="558.14" rx="7.2" ry="3.3" stroke-width="1.4"/>
<ellipse cx="294.6" cy="569.08" rx="7.2" ry="3.3" stroke-width="1.4"/>
<ellipse cx="294.6" cy="580.02" rx="7.2" ry="3.3" stroke-width="1.4"/>
<line x1="293" y1="480" x2="318" y2="480"/>
<line x1="295" y1="593.5" x2="295" y2="613.5"/>
<line x1="293" y1="593.5" x2="295" y2="593.5"/>
<line x1="286" y1="613.5" x2="307" y2="613.5" stroke-width="1.5"/>
<line x1="286" y1="613.5" x2="282.4" y2="619.7" stroke-width="1.7"/>
<line x1="291.25" y1="613.5" x2="287.65" y2="619.7" stroke-width="1.7"/>
<line x1="296.5" y1="613.5" x2="292.9" y2="619.7" stroke-width="1.7"/>
<line x1="301.75" y1="613.5" x2="298.15" y2="619.7" stroke-width="1.7"/>
<line x1="307" y1="613.5" x2="303.4" y2="619.7" stroke-width="1.7"/>
<circle cx="204" cy="645" r="2.6" fill="#fff" stroke-width="1.3"/>
<line x1="230.8" y1="629.8" x2="206.4" y2="643.4" stroke-width="1.4"/>
<polygon points="206.4,643.4 210.81,637.96 213.34,642.51" fill="#1e1e1e" stroke="none"/>
<circle cx="233" cy="628.5" r="2.6" fill="#fff" stroke-width="1.3"/>
<line x1="204" y1="647.6" x2="204" y2="705"/>
<line x1="204" y1="705" x2="825.5" y2="705"/>
<line x1="235.6" y1="628.5" x2="485" y2="628.5"/>
<polyline points="485,628.5 488.12,623.9 494.38,633.1 500.62,623.9 506.88,633.1 513.12,623.9 519.38,633.1 522.5,628.5" stroke-width="2.1" stroke-linejoin="round"/>
<line x1="522.5" y1="628.5" x2="652.5" y2="628.5"/>
<circle cx="346.5" cy="496.2" r="29" stroke-width="3.8"/>
<rect x="353" y="480" width="8.7" height="32.8" fill="#1e1e1e" stroke="none"/>
<rect x="343.1" y="480.6" width="9.9" height="31.6" fill="#fff" stroke-width="1.2"/>
<line x1="343.2" y1="490.4" x2="325.7" y2="478.4" stroke-width="1.3"/>
<line x1="343.2" y1="502.4" x2="325.7" y2="512.2" stroke-width="1.3"/>
<polyline points="338.28,508.36 342.15,502.99 335.55,503.48" stroke-width="1.5"/>
<line x1="361" y1="496" x2="469" y2="496"/>
<line x1="322.5" y1="514" x2="322.5" y2="585"/>
<circle cx="322.5" cy="556" r="2.3" fill="#1e1e1e" stroke="none"/>
<polyline points="323.5,556.8 326.64,552 332.93,561.6 339.21,552 345.5,561.6 351.79,552 358.07,561.6 364.36,552 367.5,556.8" stroke-width="2.1" stroke-linejoin="round"/>
<line x1="367.5" y1="556.8" x2="372.5" y2="556.8"/>
<line x1="372.5" y1="556" x2="372.5" y2="628.5"/>
<circle cx="372.5" cy="584" r="2.3" fill="#1e1e1e" stroke="none"/>
<line x1="322.5" y1="584" x2="341" y2="584"/>
<line x1="348.6" y1="578" x2="348.6" y2="590" stroke-width="2.2"/>
<path d="M339.6,578 Q344.4,584 339.6,590" stroke-width="2.2"/>
<line x1="349.2" y1="584" x2="372.5" y2="584"/>
<line x1="353.2" y1="573.85" x2="363" y2="573.85" stroke-width="1.6"/>
<line x1="358.1" y1="569.2" x2="358.1" y2="578.5" stroke-width="1.6"/>
<circle cx="322.5" cy="628.5" r="2.3" fill="#1e1e1e" stroke="none"/>
<circle cx="372.5" cy="628.5" r="2.3" fill="#1e1e1e" stroke="none"/>
<line x1="322.5" y1="628.5" x2="322.5" y2="644.6"/>
<line x1="316" y1="645" x2="329" y2="645" stroke-width="2.2"/>
<path d="M316,654 Q322.5,649.2 329,654" stroke-width="2.2"/>
<line x1="322.5" y1="652" x2="322.5" y2="667"/>
<line x1="313.5" y1="667" x2="334.5" y2="667" stroke-width="1.5"/>
<line x1="313.5" y1="667" x2="309.9" y2="673.2" stroke-width="1.7"/>
<line x1="318.75" y1="667" x2="315.15" y2="673.2" stroke-width="1.7"/>
<line x1="324" y1="667" x2="320.4" y2="673.2" stroke-width="1.7"/>
<line x1="329.25" y1="667" x2="325.65" y2="673.2" stroke-width="1.7"/>
<line x1="334.5" y1="667" x2="330.9" y2="673.2" stroke-width="1.7"/>
<line x1="303.9" y1="640" x2="315.2" y2="640" stroke-width="1.6"/>
<line x1="309.55" y1="634.4" x2="309.55" y2="645.6" stroke-width="1.6"/>
<path d="M469,496 A6,4.88 0 0 1 469,505.75 A6,4.88 0 0 1 469,515.5 A6,4.88 0 0 1 469,525.25 A6,4.88 0 0 1 469,535" stroke-width="1.4"/>
<ellipse cx="468" cy="505.75" rx="7" ry="3" stroke-width="1.4"/>
<ellipse cx="468" cy="515.5" rx="7" ry="3" stroke-width="1.4"/>
<ellipse cx="468" cy="525.25" rx="7" ry="3" stroke-width="1.4"/>
<line x1="479" y1="487.5" x2="479" y2="535.5" stroke-width="2.2"/>
<line x1="484" y1="487.5" x2="484" y2="535.5" stroke-width="2.2"/>
<path d="M492,486.2 A6.3,7.15 0 0 0 492,500.5 A6.3,5.25 0 0 0 492,511 A6.3,4.9 0 0 0 492,520.8 A6.3,7.5 0 0 0 492,535.8" stroke-width="1.4"/>
<ellipse cx="494" cy="500.5" rx="5.6" ry="3" stroke-width="1.4"/>
<ellipse cx="494" cy="511" rx="5.6" ry="3" stroke-width="1.4"/>
<ellipse cx="494" cy="520.8" rx="5.6" ry="3" stroke-width="1.4"/>
<line x1="492" y1="486" x2="577" y2="486"/>
<line x1="492" y1="536" x2="517.5" y2="536"/>
<line x1="395" y1="535" x2="397.5" y2="535"/>
<polyline points="397.5,535 400.42,530.6 406.25,539.4 412.08,530.6 417.92,539.4 423.75,530.6 429.58,539.4 432.5,535" stroke-width="2.1" stroke-linejoin="round"/>
<line x1="432.5" y1="535" x2="469" y2="535"/>
<line x1="395" y1="535" x2="395" y2="547.5"/>
<line x1="386" y1="547.5" x2="407" y2="547.5" stroke-width="1.5"/>
<line x1="386" y1="547.5" x2="382.4" y2="553.7" stroke-width="1.7"/>
<line x1="391.25" y1="547.5" x2="387.65" y2="553.7" stroke-width="1.7"/>
<line x1="396.5" y1="547.5" x2="392.9" y2="553.7" stroke-width="1.7"/>
<line x1="401.75" y1="547.5" x2="398.15" y2="553.7" stroke-width="1.7"/>
<line x1="407" y1="547.5" x2="403.4" y2="553.7" stroke-width="1.7"/>
<circle cx="440" cy="535" r="2.3" fill="#1e1e1e" stroke="none"/>
<circle cx="467.5" cy="535" r="2.3" fill="#1e1e1e" stroke="none"/>
<line x1="440" y1="535" x2="440" y2="553"/>
<polyline points="440,553 445.2,556.08 434.8,562.25 445.2,568.42 434.8,574.58 445.2,580.75 434.8,586.92 440,590" stroke-width="2" stroke-linejoin="round"/>
<line x1="440" y1="590" x2="440" y2="645"/>
<circle cx="440" cy="602" r="2.3" fill="#1e1e1e" stroke="none"/>
<circle cx="440" cy="628.5" r="2.3" fill="#1e1e1e" stroke="none"/>
<line x1="467.5" y1="535" x2="467.5" y2="568.4"/>
<line x1="461.3" y1="575" x2="473.7" y2="575" stroke-width="2.2"/>
<path d="M461.3,566 Q467.5,570.8 473.7,566" stroke-width="2.2"/>
<line x1="467.5" y1="575.4" x2="467.5" y2="602"/>
<line x1="440" y1="602" x2="467.5" y2="602"/>
<line x1="449.1" y1="584.1" x2="462.6" y2="584.1" stroke-width="1.6"/>
<line x1="455.85" y1="578.5" x2="455.85" y2="589.7" stroke-width="1.6"/>
<line x1="420" y1="645" x2="440" y2="645"/>
<circle cx="417.5" cy="645" r="2.6" fill="#fff" stroke-width="1.3"/>
<line x1="400.3" y1="640.7" x2="410.9" y2="640.7" stroke-width="1.6"/>
<line x1="405.6" y1="635.5" x2="405.6" y2="645.9" stroke-width="1.6"/>
<line x1="400" y1="677.5" x2="411" y2="677.5" stroke-width="1.4"/>
<circle cx="417.5" cy="678.5" r="2.6" fill="#fff" stroke-width="1.3"/>
<line x1="420.1" y1="678.5" x2="487.4" y2="678.5"/>
<circle cx="490" cy="678.5" r="2.6" fill="#fff" stroke-width="1.3"/>
<circle cx="522.5" cy="678.5" r="2.6" fill="#fff" stroke-width="1.3"/>
<line x1="520.5" y1="677.2" x2="492.5" y2="661" stroke-width="1.4"/>
<polygon points="492.5,661 499.86,662.26 497.26,666.76" fill="#1e1e1e" stroke="none"/>
<line x1="525.1" y1="678.5" x2="545" y2="678.5"/>
<line x1="545" y1="678.5" x2="545" y2="684"/>
<line x1="536" y1="684" x2="557" y2="684" stroke-width="1.5"/>
<line x1="536" y1="684" x2="532.4" y2="690.2" stroke-width="1.7"/>
<line x1="541.25" y1="684" x2="537.65" y2="690.2" stroke-width="1.7"/>
<line x1="546.5" y1="684" x2="542.9" y2="690.2" stroke-width="1.7"/>
<line x1="551.75" y1="684" x2="548.15" y2="690.2" stroke-width="1.7"/>
<line x1="557" y1="684" x2="553.4" y2="690.2" stroke-width="1.7"/>
<circle cx="517.5" cy="486" r="2.3" fill="#1e1e1e" stroke="none"/>
<line x1="517.5" y1="486" x2="517.5" y2="507.2"/>
<line x1="511.9" y1="507.6" x2="523.1" y2="507.6" stroke-width="2.2"/>
<path d="M511.9,516.8 Q517.5,512 523.1,516.8" stroke-width="2.2"/>
<line x1="517.5" y1="514.8" x2="517.5" y2="547.5"/>
<circle cx="517.5" cy="536" r="2.3" fill="#1e1e1e" stroke="none"/>
<line x1="508.5" y1="547.5" x2="529.5" y2="547.5" stroke-width="1.5"/>
<line x1="508.5" y1="547.5" x2="504.9" y2="553.7" stroke-width="1.7"/>
<line x1="513.75" y1="547.5" x2="510.15" y2="553.7" stroke-width="1.7"/>
<line x1="519" y1="547.5" x2="515.4" y2="553.7" stroke-width="1.7"/>
<line x1="524.25" y1="547.5" x2="520.65" y2="553.7" stroke-width="1.7"/>
<line x1="529.5" y1="547.5" x2="525.9" y2="553.7" stroke-width="1.7"/>
<circle cx="602.85" cy="502" r="28.7" stroke-width="3.8"/>
<rect x="609.4" y="486" width="9.3" height="33.2" fill="#1e1e1e" stroke="none"/>
<rect x="600.1" y="486.6" width="9.3" height="32" fill="#fff" stroke-width="1.2"/>
<line x1="600.7" y1="496.3" x2="582.7" y2="486" stroke-width="1.3"/>
<line x1="600.7" y1="505.6" x2="580.5" y2="518.7" stroke-width="1.3"/>
<polyline points="595.98,512 599.49,506.39 592.93,507.3" stroke-width="1.5"/>
<line x1="619" y1="502.5" x2="725.5" y2="502.5"/>
<line x1="580" y1="522.5" x2="580" y2="562.5"/>
<line x1="580" y1="601" x2="580" y2="628.5"/>
<circle cx="580" cy="557.5" r="2.3" fill="#1e1e1e" stroke="none"/>
<polyline points="580,562.5 585,565.71 575,572.12 585,578.54 575,584.96 585,591.38 575,597.79 580,601" stroke-width="2" stroke-linejoin="round"/>
<circle cx="580" cy="607" r="2.3" fill="#1e1e1e" stroke="none"/>
<circle cx="580" cy="628.5" r="2.3" fill="#1e1e1e" stroke="none"/>
<line x1="551" y1="557.5" x2="580" y2="557.5"/>
<line x1="551" y1="557.5" x2="551" y2="578.5"/>
<line x1="544.6" y1="585.5" x2="557.4" y2="585.5" stroke-width="2.2"/>
<path d="M544.6,576.4 Q551,581.2 557.4,576.4" stroke-width="2.2"/>
<line x1="551" y1="585.5" x2="551" y2="607"/>
<line x1="551" y1="607" x2="580" y2="607"/>
<line x1="557.4" y1="594.65" x2="565.9" y2="594.65" stroke-width="1.6"/>
<line x1="561.65" y1="590.4" x2="561.65" y2="598.9" stroke-width="1.6"/>
<polyline points="652.5,526 657.5,529.04 647.5,535.12 657.5,541.21 647.5,547.29 657.5,553.38 647.5,559.46 652.5,562.5" stroke-width="2" stroke-linejoin="round"/>
<circle cx="703" cy="502.5" r="2.3" fill="#1e1e1e" stroke="none"/>
<line x1="703" y1="502.5" x2="703" y2="507.5"/>
<polyline points="703,507.5 698,511.04 708,518.12 698,525.21 708,532.29 698,539.38 708,546.46 703,550" stroke-width="2" stroke-linejoin="round"/>
<line x1="703" y1="550" x2="703" y2="560"/>
<circle cx="703" cy="551" r="2.3" fill="#1e1e1e" stroke="none"/>
<line x1="694" y1="560" x2="715" y2="560" stroke-width="1.5"/>
<line x1="694" y1="560" x2="690.4" y2="566.2" stroke-width="1.7"/>
<line x1="699.25" y1="560" x2="695.65" y2="566.2" stroke-width="1.7"/>
<line x1="704.5" y1="560" x2="700.9" y2="566.2" stroke-width="1.7"/>
<line x1="709.75" y1="560" x2="706.15" y2="566.2" stroke-width="1.7"/>
<line x1="715" y1="560" x2="711.4" y2="566.2" stroke-width="1.7"/>
<line x1="725.5" y1="502.5" x2="725.5" y2="522.6"/>
<line x1="719" y1="523" x2="732" y2="523" stroke-width="2.2"/>
<path d="M719,532.6 Q725.5,527.8 732,532.6" stroke-width="2.2"/>
<line x1="725.5" y1="530.6" x2="725.5" y2="551"/>
<line x1="703" y1="551" x2="725.5" y2="551"/>
<line x1="652.5" y1="629" x2="652.5" y2="641.2"/>
<line x1="645.7" y1="639.6" x2="659.3" y2="639.6" stroke-width="2.2"/>
<path d="M645.7,647.6 Q652.5,642.8 659.3,647.6" stroke-width="2.2"/>
<line x1="652.5" y1="648.6" x2="652.5" y2="658"/>
<line x1="643.5" y1="658" x2="664.5" y2="658" stroke-width="1.5"/>
<line x1="643.5" y1="658" x2="639.9" y2="664.2" stroke-width="1.7"/>
<line x1="648.75" y1="658" x2="645.15" y2="664.2" stroke-width="1.7"/>
<line x1="654" y1="658" x2="650.4" y2="664.2" stroke-width="1.7"/>
<line x1="659.25" y1="658" x2="655.65" y2="664.2" stroke-width="1.7"/>
<line x1="664.5" y1="658" x2="660.9" y2="664.2" stroke-width="1.7"/>
<line x1="657.4" y1="634.9" x2="669.7" y2="634.9" stroke-width="1.6"/>
<line x1="663.55" y1="630" x2="663.55" y2="639.8" stroke-width="1.6"/>
</g>
<g>
<text transform="translate(52.79,30.88) scale(0.8576,1)" font-size="16.8">ANT</text>
<text transform="translate(51.92,69.48) scale(1.0992,1)" font-size="16.66" letter-spacing="0">L6</text>
<text transform="translate(51.7,86.98) scale(0.8739,1)" font-size="16.8">1.5μH</text>
<text transform="translate(61.88,120.68) scale(0.8795,1)" font-size="14.48">R</text>
<text transform="translate(83.24,113.18) scale(0.9928,1)" font-size="15.2">.0015</text>
<text transform="translate(81.12,170.08) scale(0.8358,1)" font-size="15.79">T</text>
<text transform="translate(104.55,169.78) scale(1.1097,1)" font-size="14.62" letter-spacing="0">47</text>
<text transform="translate(103.72,186.28) scale(0.9241,1)" font-size="15.79">PF</text>
<text transform="translate(169.39,224.48) scale(1.0506,1)" font-size="15.64" letter-spacing="0">25</text>
<text transform="translate(169.08,240.98) scale(0.8885,1)" font-size="15.64">PF</text>
<text transform="translate(241.49,144.38) scale(0.9790,1)" font-size="16.8">33Ω</text>
<text transform="translate(230.18,170.78) scale(0.8393,1)" font-size="16.22">10PF</text>
<text transform="translate(235.2,30.68) scale(0.8638,1)" font-size="17.82">56PF</text>
<text transform="translate(280.58,32.88) scale(0.9354,1)" font-size="14.91">RCVR OSC-MIXER</text>
<text transform="translate(238.69,80.18) scale(0.9015,1)" font-size="16.22">XTAL</text>
<text transform="translate(245.62,100.58) scale(1.1132,1)" font-size="16.08" letter-spacing="0">200</text>
<text transform="translate(246.09,113.58) scale(0.9734,1)" font-size="14.19">PF</text>
<text transform="translate(359.35,101.78) scale(1.0332,1)" font-size="16.8">22μH</text>
<text transform="translate(284.84,166.28) scale(0.5343,1)" font-size="16.08">.1</text>
<text transform="translate(294.55,201.38) scale(0.5794,1)" font-size="12.59">.1</text>
<text transform="translate(358.69,208.78) scale(0.7139,1)" font-size="17.09">1K</text>
<text transform="translate(255.68,213.68) scale(0.9827,1)" font-size="16.37">5.6K</text>
<text transform="translate(269,264.78) scale(0.8870,1)" font-size="16.51">1PF</text>
<text transform="translate(183.49,254.78) scale(0.6440,1)" font-size="12.44">.1</text>
<text transform="translate(229.43,255.78) scale(0.9375,1)" font-size="16.8">27K</text>
<text transform="translate(321.56,255.68) scale(1.2000,1)" font-size="14.04" letter-spacing="1.44">60</text>
<text transform="translate(469.24,74.98) scale(0.8029,1)" font-size="10.7">.1</text>
<text transform="translate(516.67,71.28) scale(0.8831,1)" font-size="18.26">56K</text>
<text transform="translate(588.28,62.38) scale(0.8402,1)" font-size="16.22">12K</text>
<text transform="translate(470.66,122.88) scale(0.9099,1)" font-size="16.22">IF AMPL</text>
<text transform="translate(474.59,239.38) scale(1.1658,1)" font-size="14.33" letter-spacing="0">.02</text>
<text transform="translate(536.77,239.98) scale(1.2000,1)" font-size="14.33" letter-spacing="0.08">820Ω</text>
<text transform="translate(410.09,208.88) scale(0.7898,1)" font-size="17.09">10</text>
<text transform="translate(468.87,208.68) scale(0.9948,1)" font-size="16.95">27K</text>
<text transform="translate(639.63,108.68) scale(0.8436,1)" font-size="17.24">DET</text>
<text transform="translate(672.81,192.68) scale(0.8768,1)" font-size="18.84">.05</text>
<text transform="translate(716.26,172.88) scale(0.8190,1)" font-size="17.09">VOLUME</text>
<text transform="translate(716.42,209.98) scale(0.8478,1)" font-size="17.67">5K</text>
<text transform="translate(724.18,257.08) scale(0.7130,1)" font-size="17.24">1K</text>
<text transform="translate(662.04,403.78) scale(1.0575,1)" font-size="16.08">5</text>
<text transform="translate(528.61,317.28) scale(1.0991,1)" font-size="16.08" letter-spacing="0">.02</text>
<text transform="translate(627.44,320.78) scale(0.8135,1)" font-size="15.35">T</text>
<text transform="translate(671.67,321.68) scale(1.1450,1)" font-size="12.3">R</text>
<text transform="translate(315.47,320.18) scale(0.9869,1)" font-size="16.66">100Ω</text>
<text transform="translate(315.16,337.28) scale(0.8838,1)" font-size="16.37">SPKR</text>
<text transform="translate(459.9,377.28) scale(1.1587,1)" font-size="13.9">R</text>
<text transform="translate(459.84,419.78) scale(1.2168,1)" font-size="13.9">T</text>
<text transform="translate(157.51,375.38) scale(1.0044,1)" font-size="13.46">PHONES</text>
<text transform="translate(84.89,429.88) scale(0.9265,1)" font-size="15.64">XMIT OSC</text>
<text transform="translate(55.31,498.18) scale(0.7360,1)" font-size="16.22">1K</text>
<text transform="translate(89.08,528.28) scale(1.0053,1)" font-size="14.91">XTAL</text>
<text transform="translate(82.11,565.28) scale(1.0890,1)" font-size="14.91" letter-spacing="0">82PF</text>
<text transform="translate(91.72,589.08) scale(1.0986,1)" font-size="15.93" letter-spacing="0">47μH</text>
<text transform="translate(94.34,626.78) scale(1.1273,1)" font-size="15.35" letter-spacing="-0">68Ω</text>
<text transform="translate(39.55,666.98) scale(0.8388,1)" font-size="17.09">5.1K</text>
<text transform="translate(122.21,667.08) scale(1.1703,1)" font-size="16.95" letter-spacing="0">.005</text>
<text transform="translate(77.78,701.08) scale(1.0075,1)" font-size="14.48">CHASSIS GND</text>
<text transform="translate(136.48,726.78) scale(1.0516,1)" font-size="13.9" letter-spacing="0">CAPACITORS IN μf, UNLESS SPECIFIED</text>
<text transform="translate(148.63,452.38) scale(0.9720,1)" font-size="16.22">20PF</text>
<text transform="translate(197.46,457.98) scale(0.9932,1)" font-size="16.66">L4</text>
<text transform="translate(181.58,578.08) scale(0.9905,1)" font-size="16.95">33Ω</text>
<text transform="translate(192.03,611.28) scale(0.8024,1)" font-size="16.22">T</text>
<text transform="translate(188.82,649.08) scale(0.8493,1)" font-size="15.79">R</text>
<text transform="translate(494.82,619.78) scale(0.9038,1)" font-size="14.48">1K</text>
<text transform="translate(328,457.28) scale(0.9511,1)" font-size="15.64">MOD/AF OUTPUT</text>
<text transform="translate(325.04,546.08) scale(0.8956,1)" font-size="17.24">100Ω</text>
<text transform="translate(338.31,606.08) scale(0.7993,1)" font-size="16.51">10</text>
<text transform="translate(330.29,650.08) scale(1.0861,1)" font-size="16.8" letter-spacing="0">60</text>
<text transform="translate(403.95,525.18) scale(0.8321,1)" font-size="16.95">18K</text>
<text transform="translate(397.74,584.18) scale(1.0105,1)" font-size="16.22">4.7K</text>
<text transform="translate(474.82,584.78) scale(0.8003,1)" font-size="16.37">10</text>
<text transform="translate(373.88,667.98) scale(0.9664,1)" font-size="16.37">9V BATT</text>
<text transform="translate(463.24,657.58) scale(1.0987,1)" font-size="15.06" letter-spacing="-0">ON-OFF</text>
<text transform="translate(520.66,525.08) scale(1.0855,1)" font-size="15.79" letter-spacing="0">.0033</text>
<text transform="translate(572.39,464.78) scale(0.9208,1)" font-size="16.8">AF AMPL</text>
<text transform="translate(526.98,585.28) scale(0.7816,1)" font-size="17.53">10</text>
<text transform="translate(586.23,585.28) scale(0.9651,1)" font-size="17.53">470Ω</text>
<text transform="translate(618.1,556.98) scale(0.8524,1)" font-size="17.24">12K</text>
<text transform="translate(655.93,520.78) scale(1.0076,1)" font-size="16.8">100K</text>
<text transform="translate(731.6,527.28) scale(0.9360,1)" font-size="18.98">.0033</text>
<text transform="translate(626.27,650.18) scale(1.0228,1)" font-size="14.77">10</text>
</g>
</svg>
</body></html>
